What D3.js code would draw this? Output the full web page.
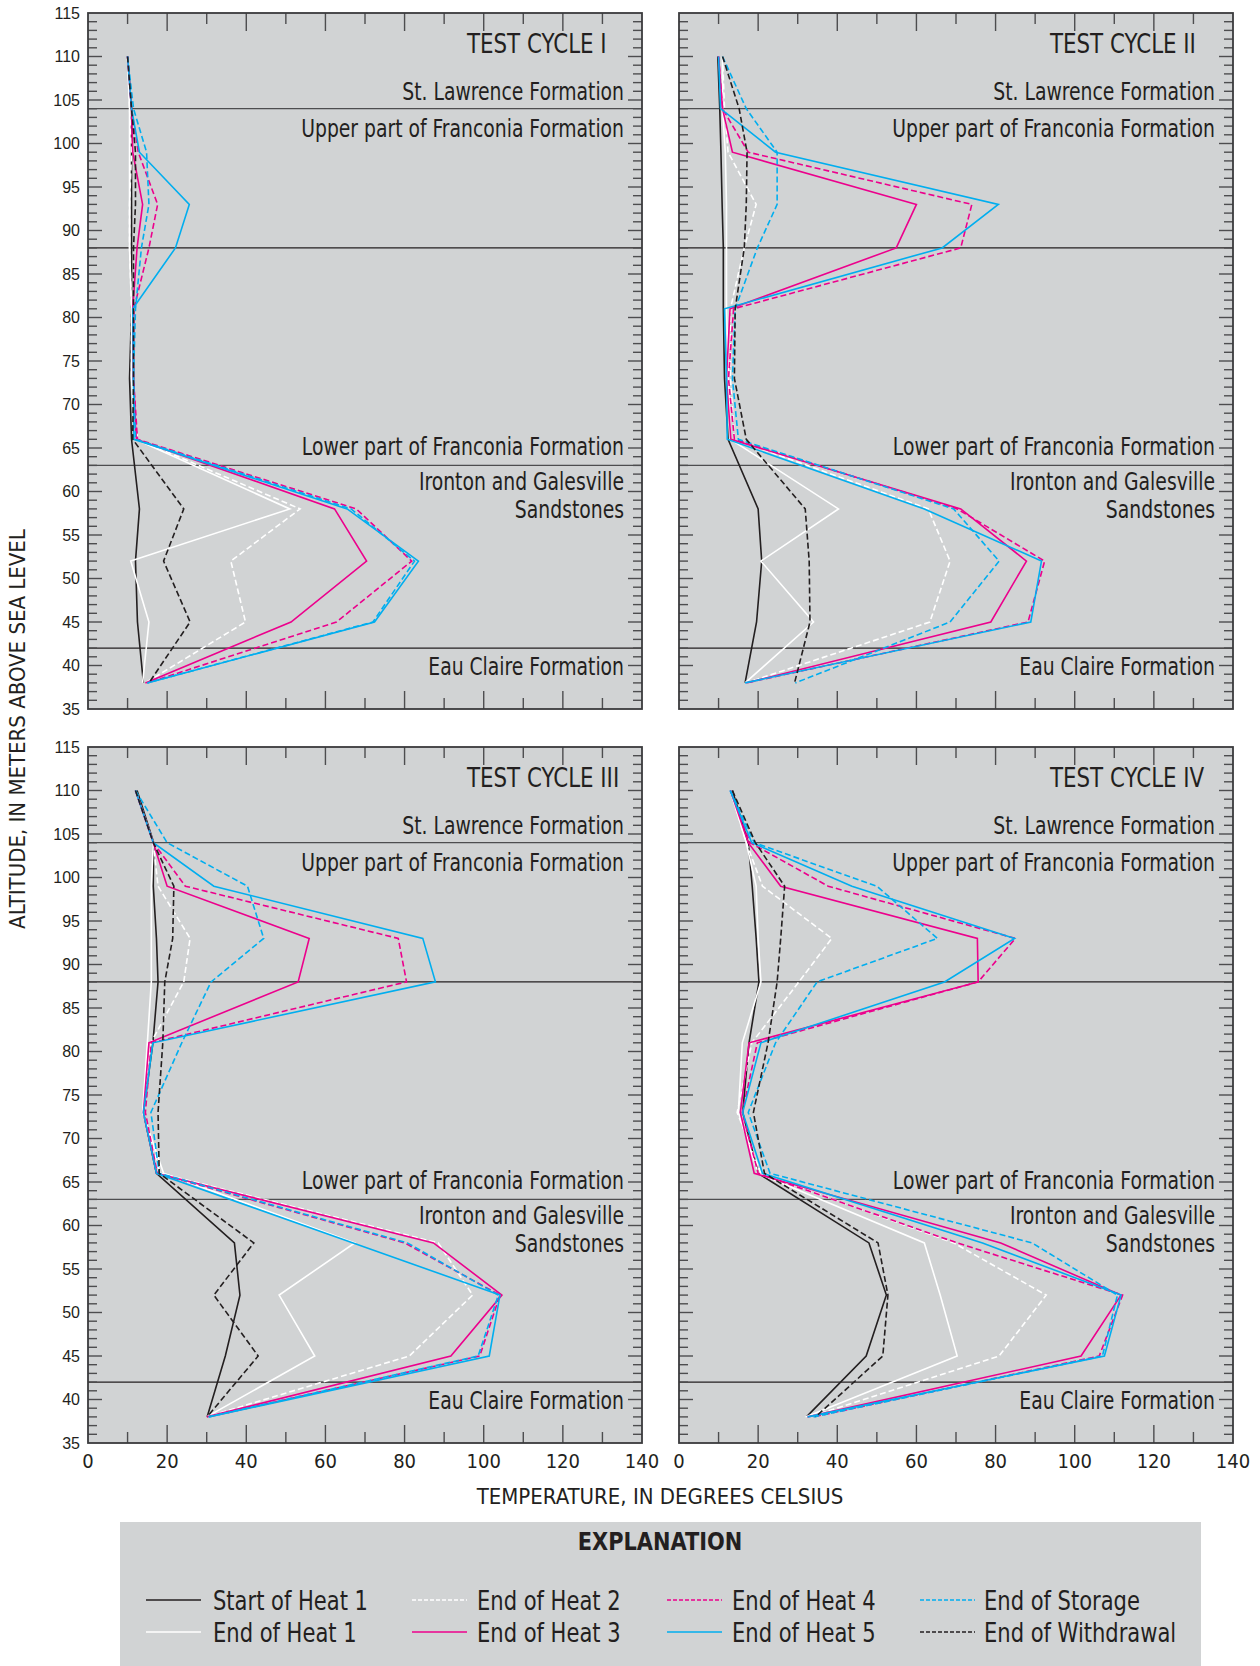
<!DOCTYPE html>
<html>
<head>
<meta charset="utf-8">
<script src="https://cdn.jsdelivr.net/npm/d3@7/dist/d3.min.js"></script>
<style>
  html, body { margin: 0; padding: 0; background: #ffffff; }
  svg { display: block; }
</style>
</head>
<body>
<svg id="chart" width="1260" height="1666"></svg>
<script>
// ---------------- DATA ----------------
const altitudes = [110, 104, 99, 93, 88, 81, 73, 66, 58, 52, 45, 38];
const seriesNames = ["Start of Heat 1", "End of Heat 1", "End of Heat 2", "End of Heat 3",
                     "End of Heat 4", "End of Heat 5", "End of Storage", "End of Withdrawal"];
const cycleNames = ["TEST CYCLE I", "TEST CYCLE II", "TEST CYCLE III", "TEST CYCLE IV"];
const formationBoundaries = [104, 88, 63, 42];
const formationLabels = ["St. Lawrence Formation", "Upper part of Franconia Formation",
                         "Lower part of Franconia Formation", "Ironton and Galesville",
                         "Sandstones", "Eau Claire Formation"];
const formationLabelAlts = [105, 100.8, 64.2, 60.2, 56.9, 38.9];
const tempTicks = [0, 20, 40, 60, 80, 100, 120, 140];
const altTicks = [35, 40, 45, 50, 55, 60, 65, 70, 75, 80, 85, 90, 95, 100, 105, 110, 115];

// Test cycle I
const c1StartHeat1 = [10, 11, 11, 11, 11, 11, 10.5, 11, 13, 12, 12.5, 14];
const c1EndHeat1   = [10, 10.5, 10.5, 10.5, 10.5, 11, 11, 12, 51, 10.8, 15.4, 13.8];
const c1EndHeat2   = [10, 10.5, 11, 10.5, 10.5, 11, 11, 12.5, 53.6, 36.1, 39.8, 14.5];
const c1EndHeat3   = [10, 11, 11.3, 13.8, 12.4, 11.3, 11.5, 12.2, 62.3, 70.4, 51.3, 14.5];
const c1EndHeat4   = [10, 11, 12.7, 17.6, 15.4, 11.6, 11.5, 12.5, 67.8, 81.8, 62.8, 15];
const c1EndHeat5   = [10, 11, 13, 25.6, 22.1, 11.3, 11.5, 11.6, 65.5, 83.5, 72.4, 15];
const c1EndStorage = [10, 11.5, 14.8, 15.4, 13.5, 12, 11.5, 12, 66.5, 82.5, 72, 15];
const c1EndWithdr  = [10, 11, 12, 12, 11.5, 11.5, 11.5, 11.3, 24.2, 19.1, 25.8, 15.4];

// Test cycle II
const c2StartHeat1 = [9.8, 10.3, 10.6, 10.9, 11.2, 11.2, 11.5, 12.4, 20, 20.9, 19.6, 16.7];
const c2EndHeat1   = [11, 11, 11.7, 12, 12, 12, 12.5, 13, 40.3, 20.7, 34, 16.7];
const c2EndHeat2   = [11, 11.5, 12.4, 19.5, 16.5, 13, 13, 14, 63, 68.5, 63.4, 17];
const c2EndHeat3   = [10, 11, 13.5, 60, 54.9, 12.9, 12, 13.1, 71.2, 87.8, 78.8, 17];
const c2EndHeat4   = [10, 11, 17.5, 74, 71.2, 13.8, 12.5, 14, 70.3, 92.4, 88.2, 17];
const c2EndHeat5   = [10, 10.5, 24.4, 80.7, 66.5, 11.5, 12, 12.2, 62, 91.6, 88.9, 16.7];
const c2EndStorage = [11, 17, 24.8, 24.8, 19.8, 14.2, 13.5, 15, 69.4, 80.9, 68.5, 29.4];
const c2EndWithdr  = [11, 15.2, 17.2, 17, 16.5, 14.2, 14, 17, 31.9, 32.9, 33.1, 29.2];

// Test cycle III
const c3StartHeat1 = [12.4, 16.6, 16.5, 17.3, 17.7, 16.4, 14, 17.3, 37, 38.4, 34.7, 30.1];
const c3EndHeat1   = [12, 16.5, 16, 16, 16, 15, 13.8, 19.1, 67.4, 48.3, 57.3, 30];
const c3EndHeat2   = [12, 16.5, 17.7, 25.8, 24.2, 15.9, 14, 18.2, 88.5, 97.2, 81.2, 30];
const c3EndHeat3   = [12, 16.5, 20, 55.9, 53.1, 15.4, 14, 17.3, 87.3, 104.6, 91.7, 30];
const c3EndHeat4   = [12, 16.5, 24.6, 78.4, 80.5, 16, 14.5, 17.5, 80, 104.1, 99, 30.5];
const c3EndHeat5   = [12, 16.5, 31.8, 84.6, 87.8, 16.4, 14, 17.3, 67, 104.1, 101.4, 30.5];
const c3EndStorage = [12, 20, 40.3, 44.4, 31.1, 23.7, 15.9, 18, 80.7, 103.7, 98.6, 30.5];
const c3EndWithdr  = [12, 16.5, 21.7, 21.4, 19.4, 18.9, 17.7, 18, 41.9, 31.8, 43, 30.1];

// Test cycle IV
const c4StartHeat1 = [13.5, 17.5, 18.5, 19.5, 20.2, 17.7, 16.1, 20, 48, 52.4, 47.3, 32.2];
const c4EndHeat1   = [13, 17, 19.5, 20, 20.7, 16, 15, 20, 62, 66, 70.3, 32];
const c4EndHeat2   = [13, 17, 21.1, 38.6, 30.3, 18.4, 14.7, 20.7, 69.4, 92.8, 80.9, 33];
const c4EndHeat3   = [13, 17.5, 25.7, 75.4, 75.6, 17.7, 15.5, 19, 81.3, 111.7, 101.6, 32.5];
const c4EndHeat4   = [13, 18, 37.7, 85, 75.6, 19.8, 16, 20, 70.3, 112.1, 106.2, 34];
const c4EndHeat5   = [12.9, 18.4, 43.7, 84.8, 67.1, 20.7, 16.1, 21.1, 76.7, 111.7, 107.5, 32.5];
const c4EndStorage = [13, 19, 50, 65.3, 34.9, 24.4, 17.5, 23, 89.2, 110.8, 107, 34];
const c4EndWithdr  = [13.5, 19.3, 26.7, 25.7, 24.8, 22.5, 18.8, 21.6, 50.3, 52.8, 51.5, 34.5];

const cycles = [
  [c1StartHeat1, c1EndHeat1, c1EndHeat2, c1EndHeat3, c1EndHeat4, c1EndHeat5, c1EndStorage, c1EndWithdr],
  [c2StartHeat1, c2EndHeat1, c2EndHeat2, c2EndHeat3, c2EndHeat4, c2EndHeat5, c2EndStorage, c2EndWithdr],
  [c3StartHeat1, c3EndHeat1, c3EndHeat2, c3EndHeat3, c3EndHeat4, c3EndHeat5, c3EndStorage, c3EndWithdr],
  [c4StartHeat1, c4EndHeat1, c4EndHeat2, c4EndHeat3, c4EndHeat4, c4EndHeat5, c4EndStorage, c4EndWithdr]
];

// ---------------- STYLE ----------------
const seriesStyle = [
  { color: "#231f20", dash: null },
  { color: "#ffffff", dash: null },
  { color: "#ffffff", dash: "6,3" },
  { color: "#ec008c", dash: null },
  { color: "#ec008c", dash: "6,3" },
  { color: "#00aeef", dash: null },
  { color: "#00aeef", dash: "6,3" },
  { color: "#231f20", dash: "6,3" }
];
const BG = "#d1d3d4";
const narrow = "'Liberation Sans Narrow', 'DejaVu Sans Condensed', 'Liberation Sans', sans-serif";
const regular = "'Liberation Sans', Arial, sans-serif";
const INK = "#231f20";

const panels = [
  { x0: 88,  x1: 642,  y0: 13,  y1: 709,  tx: 379 },
  { x0: 679, x1: 1233, y0: 13,  y1: 709,  tx: 371 },
  { x0: 88,  x1: 642,  y0: 747, y1: 1443, tx: 379 },
  { x0: 679, x1: 1233, y0: 747, y1: 1443, tx: 371 }
];

const svg = d3.select("#chart");

// text compressed horizontally around its anchor point
function squeezedText(parent, ax, ay, f, size, anchor) {
  return parent.append("text")
    .attr("transform", `translate(${ax},${ay}) scale(${f},1)`)
    .attr("x", 0).attr("y", 0)
    .attr("text-anchor", anchor)
    .attr("font-family", narrow).attr("font-size", size)
    .attr("fill", INK);
}

panels.forEach((p, i) => {
  const x = d3.scaleLinear().domain([0, 140]).range([p.x0, p.x1]);
  const y = d3.scaleLinear().domain([35, 115]).range([p.y1, p.y0]);
  const g = svg.append("g");

  g.append("rect").attr("x", p.x0).attr("y", p.y0)
    .attr("width", p.x1 - p.x0).attr("height", p.y1 - p.y0).attr("fill", BG);

  // formation boundary lines
  g.selectAll("line.fb").data(formationBoundaries).join("line")
    .attr("x1", p.x0).attr("x2", p.x1)
    .attr("y1", d => y(d)).attr("y2", d => y(d))
    .attr("stroke", (d, k) => (k % 2 === 0 ? "#4d4d4f" : INK))
    .attr("stroke-width", 1.3);

  const tickCol = "#4d4d4f";
  const yt = d3.range(36, 115, 1);
  g.selectAll("line.ytl").data(yt).join("line")
    .attr("x1", p.x0).attr("x2", d => p.x0 + (d % 5 === 0 ? 14 : 9))
    .attr("y1", d => y(d)).attr("y2", d => y(d))
    .attr("stroke", tickCol).attr("stroke-width", 1.4);
  g.selectAll("line.ytr").data(yt).join("line")
    .attr("x1", p.x1).attr("x2", d => p.x1 - (d % 5 === 0 ? 14 : 9))
    .attr("y1", d => y(d)).attr("y2", d => y(d))
    .attr("stroke", tickCol).attr("stroke-width", 1.4);

  const xt = d3.range(10, 140, 10);
  g.selectAll("line.xtt").data(xt).join("line")
    .attr("x1", d => x(d)).attr("x2", d => x(d))
    .attr("y1", p.y0).attr("y2", d => p.y0 + (d % 20 === 0 ? 18 : 11))
    .attr("stroke", tickCol).attr("stroke-width", 1.4);
  g.selectAll("line.xtb").data(xt).join("line")
    .attr("x1", d => x(d)).attr("x2", d => x(d))
    .attr("y1", p.y1).attr("y2", d => p.y1 - (d % 20 === 0 ? 18 : 11))
    .attr("stroke", tickCol).attr("stroke-width", 1.4);

  // formation labels (right aligned, condensed)
  const ax = p.x1 - 18;
  formationLabels.forEach((lab, k) => {
    squeezedText(g, ax, y(formationLabelAlts[k]), 0.87, 24, "end").text(lab);
  });

  // data lines
  const line = d3.line().x(d => x(d[0])).y(d => y(d[1]));
  cycles[i].forEach((vals, s) => {
    const pts = vals.map((v, k) => [v, altitudes[k]]);
    g.append("path").attr("d", line(pts))
      .attr("fill", "none")
      .attr("stroke", seriesStyle[s].color)
      .attr("stroke-width", 1.6)
      .attr("stroke-linejoin", "miter")
      .attr("stroke-dasharray", seriesStyle[s].dash);
  });

  // cycle title
  squeezedText(g, p.x0 + p.tx, p.y0 + 40, 0.88, 27, "start").text(cycleNames[i]);

  // frame
  g.append("rect").attr("x", p.x0).attr("y", p.y0)
    .attr("width", p.x1 - p.x0).attr("height", p.y1 - p.y0)
    .attr("fill", "none").attr("stroke", "#3a3a3c").attr("stroke-width", 1.8);

  if (i % 2 === 0) {
    g.selectAll("text.yl").data(altTicks).join("text")
      .attr("x", p.x0 - 8).attr("y", d => y(d)).attr("dy", "0.36em")
      .attr("text-anchor", "end")
      .attr("font-family", regular).attr("font-size", 16)
      .attr("fill", INK).text(d => d);
  }
  if (i >= 2) {
    g.selectAll("text.xl").data(tempTicks).join("text")
      .attr("x", d => x(d)).attr("y", p.y1 + 25)
      .attr("text-anchor", "middle")
      .attr("font-family", narrow).attr("font-size", 20)
      .attr("fill", INK).text(d => d);
  }
});

// axis titles
svg.append("text")
  .attr("transform", "translate(25,729) rotate(-90)")
  .attr("text-anchor", "middle")
  .attr("font-family", narrow).attr("font-size", 22)
  .attr("fill", INK).text("ALTITUDE, IN METERS ABOVE SEA LEVEL");
svg.append("text")
  .attr("x", 660).attr("y", 1504)
  .attr("text-anchor", "middle")
  .attr("font-family", narrow).attr("font-size", 22)
  .attr("fill", INK).text("TEMPERATURE, IN DEGREES CELSIUS");

// legend
const lg = svg.append("g");
lg.append("rect").attr("x", 120).attr("y", 1522).attr("width", 1081).attr("height", 144).attr("fill", BG);
squeezedText(lg, 660, 1550, 0.93, 25, "middle").attr("font-weight", "bold").text("EXPLANATION");

const legLineX = [146, 412, 667, 920];
const legTextX = [213, 477, 732, 984];
const legRows = [1601, 1633];
seriesNames.forEach((name, s) => {
  const col = Math.floor(s / 2), row = s % 2;
  const ly = legRows[row];
  lg.append("line").attr("x1", legLineX[col]).attr("x2", legLineX[col] + 55)
    .attr("y1", ly - 1).attr("y2", ly - 1)
    .attr("stroke", seriesStyle[s].color).attr("stroke-width", 1.6)
    .attr("stroke-dasharray", seriesStyle[s].dash ? "4,2" : null);
  squeezedText(lg, legTextX[col], ly + 9, 0.9, 26, "start").text(name);
});
</script>
</body>
</html>
